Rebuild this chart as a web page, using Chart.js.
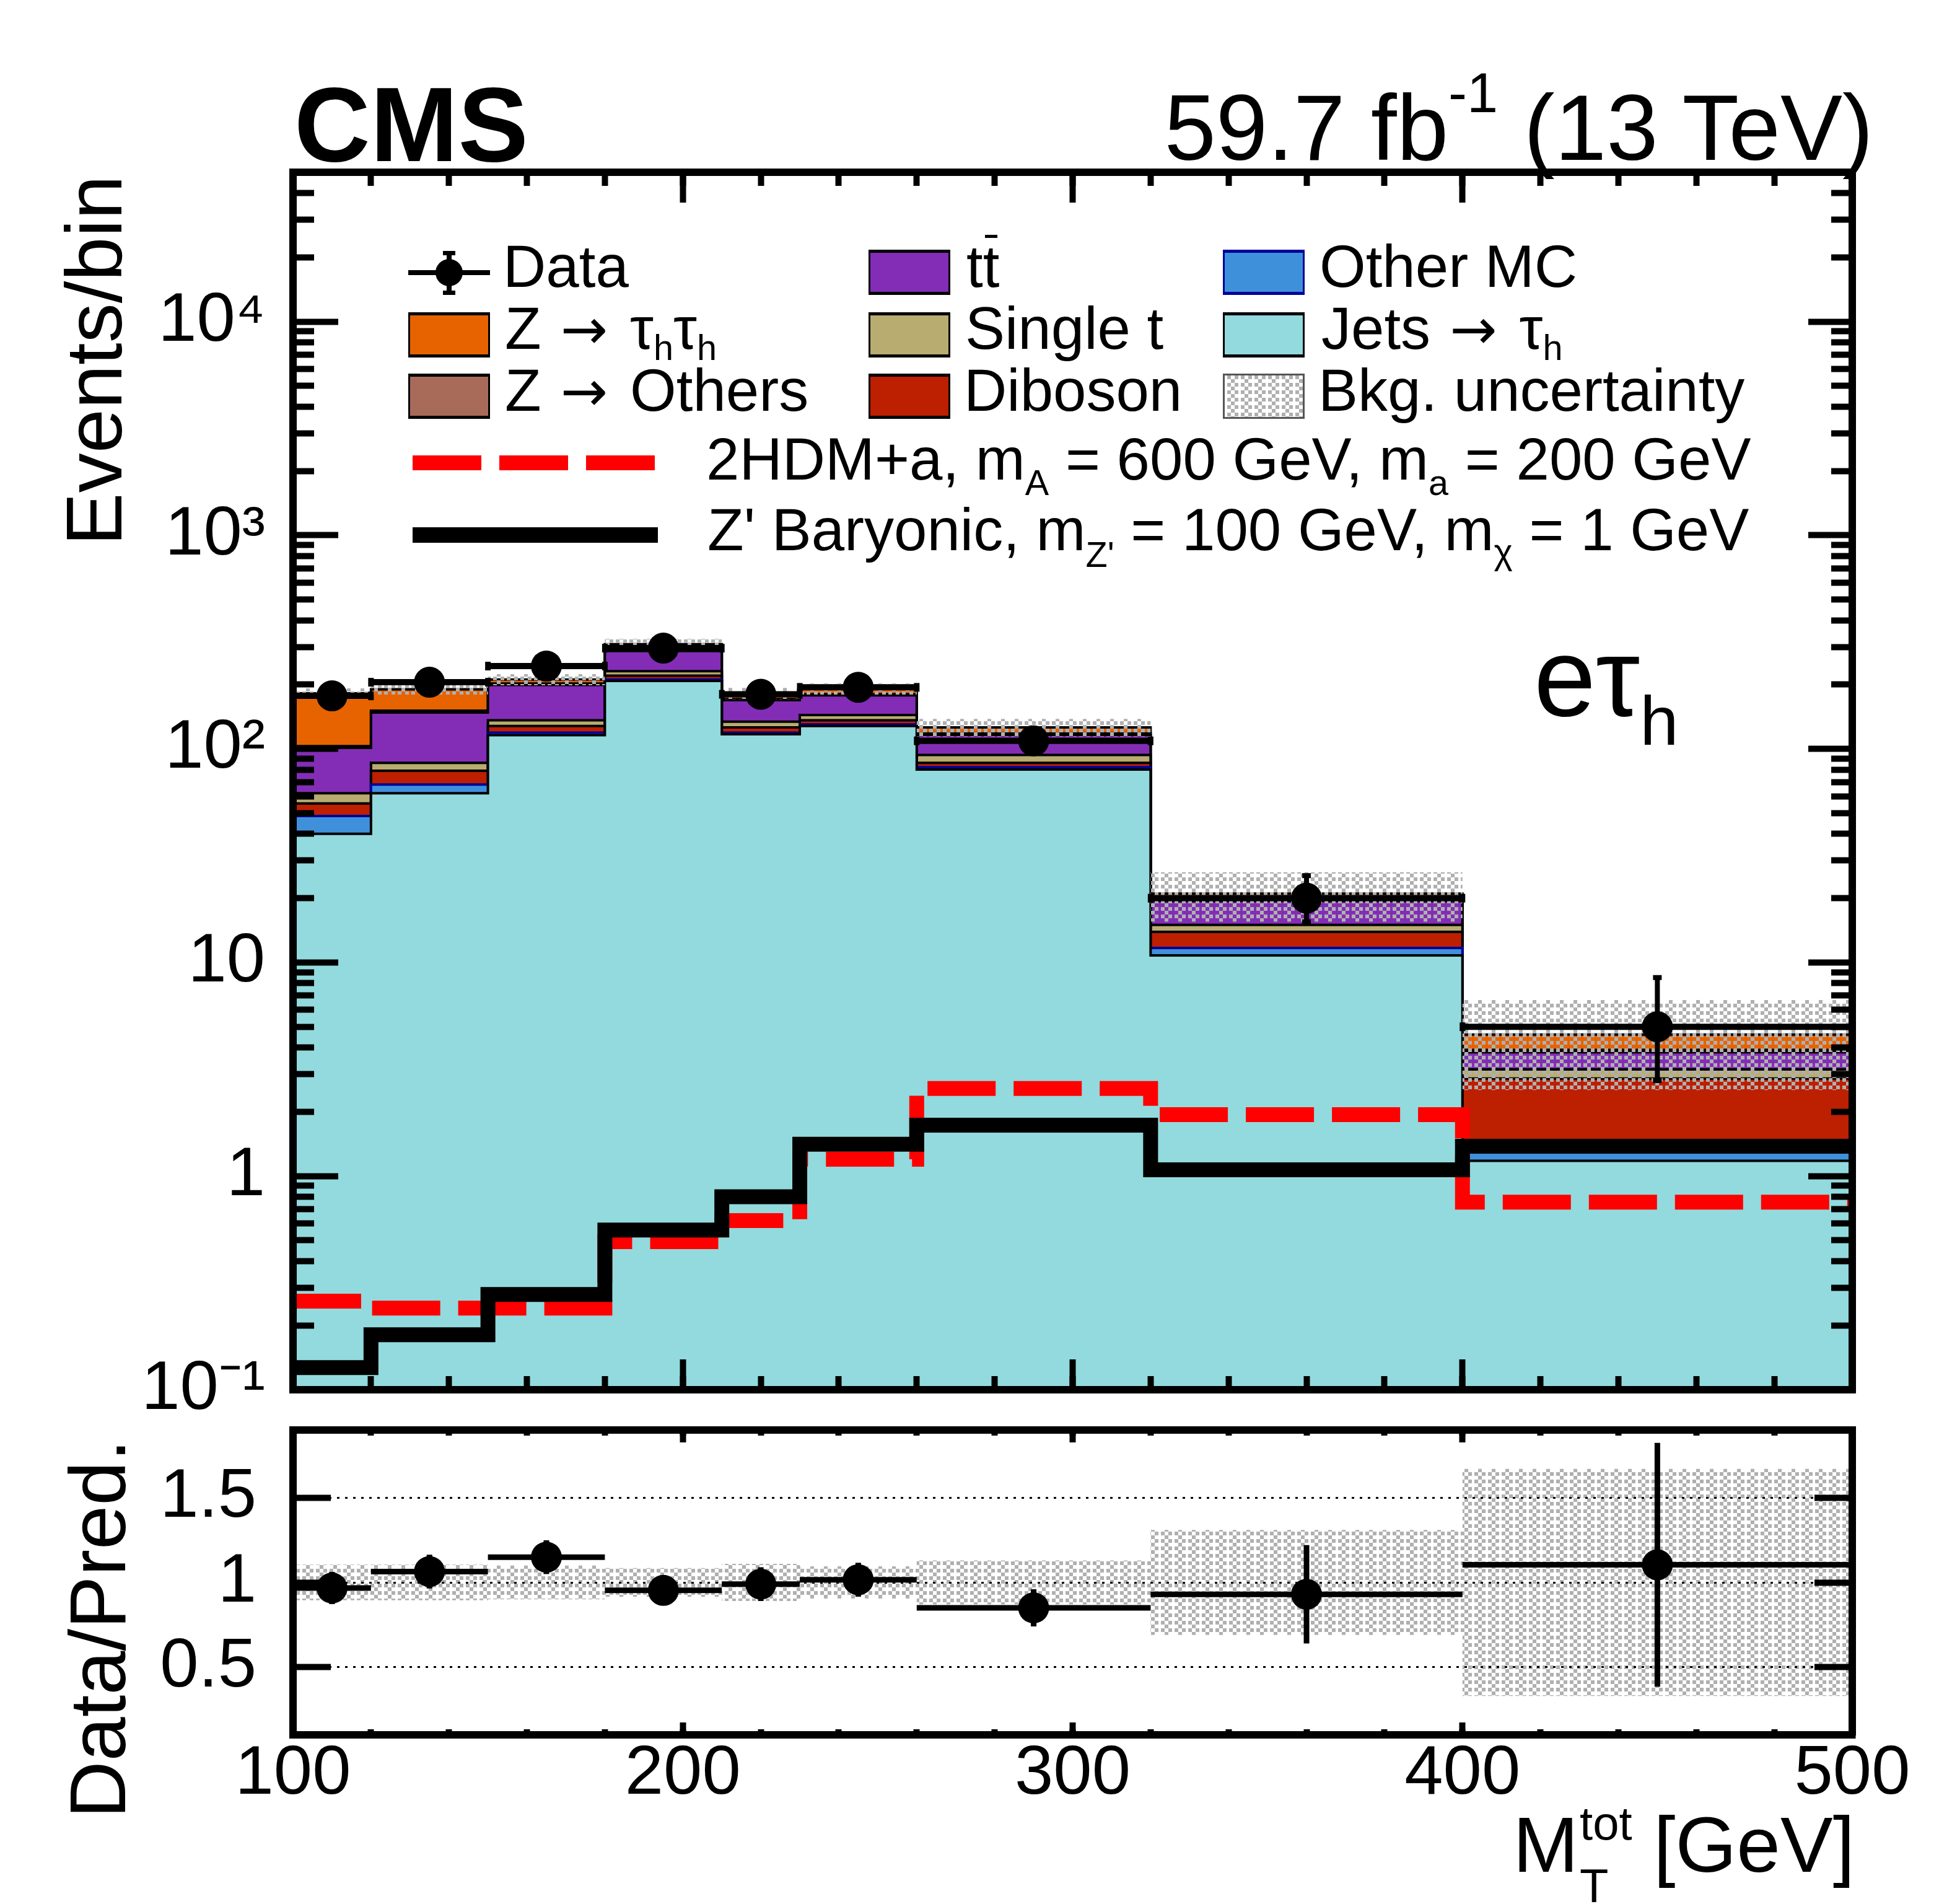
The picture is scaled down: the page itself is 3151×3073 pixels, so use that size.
<!DOCTYPE html>
<html>
<head>
<meta charset="utf-8">
<script src="https://cdn.jsdelivr.net/npm/chart.js@4.4.1/dist/chart.umd.min.js"></script>
<style>
html, body { margin: 0; padding: 0; background: #fff; }
body { width: 3151px; height: 3073px; position: relative; overflow: hidden;
       font-family: "Liberation Sans", Arial, Helvetica, sans-serif; color: #000; }
canvas { position: absolute; left: 0; top: 0; }
.t { position: absolute; white-space: nowrap; line-height: 1; }
.rot { transform-origin: 0 0; transform: rotate(-90deg); text-align: right; }
.up { position: relative; line-height: 1; }
.lg { font-size: 96px; }
.lg sub { font-size: 0.6em; position: relative; vertical-align: baseline; line-height: 1; }
.arr { font-family: "DejaVu Sans", sans-serif; font-size: 0.95em; margin: 0 0.1em 0 0.05em; }
.box { position: absolute; width: 132px; height: 73px; box-sizing: border-box;
       border: 3px solid #000; border-top-width: 5px; border-bottom-width: 5px; }
.bar { position: relative; }
.bar::after { content: ''; position: absolute; left: 0.03em; right: 0.03em; top: 0.03em; border-top: 0.06em solid #000; }
.ss { display: inline-block; position: relative; width: 86px; height: 0; }
.ss span { position: absolute; left: 2px; font-size: 76px; line-height: 1; }
.mk { position: absolute; background: #000; }
</style>
</head>
<body>
<canvas id="main" width="3151" height="3073"></canvas>
<canvas id="ratio" width="3151" height="3073"></canvas>

<div class="t" style="left:475px;top:116px;font-size:170px;font-weight:bold">CMS</div>
<div class="t" style="right:127px;top:131px;font-size:150px">59.7 fb<span class="up" style="font-size:90px;top:-77px">-1</span> (13 TeV)</div>

<div class="t rot" style="left:88px;top:1283px;width:1000px;font-size:128px">Events/bin</div>
<div class="t rot" style="left:94px;top:3023px;width:700px;font-size:128px">Data/Pred.</div>
<div class="t" style="right:157px;top:2914px;font-size:127px">M<span class="ss"><span style="top:-116px">tot</span><span style="top:-15px">T</span></span> [GeV]</div>

<div class="t" style="left:2476px;top:1003px;font-size:180px">e&tau;<span class="up" style="font-size:112px;top:47px">h</span></div>

<!-- legend -->
<div class="mk" style="left:659px;top:436px;width:132px;height:8px"></div>
<div class="mk" style="left:721px;top:407px;width:8px;height:67px"></div>
<div class="mk" style="left:715px;top:405px;width:20px;height:7px"></div>
<div class="mk" style="left:715px;top:469px;width:20px;height:7px"></div>
<div class="mk" style="left:703px;top:418px;width:44px;height:44px;border-radius:50%"></div>
<div class="box" style="left:659px;top:504px;background:#e76300"></div>
<div class="box" style="left:659px;top:603px;background:#a96b59"></div>
<div class="box" style="left:1402px;top:403px;background:#832db6"></div>
<div class="box" style="left:1402px;top:504px;background:#b9ac70"></div>
<div class="box" style="left:1402px;top:603px;background:#bd1f01"></div>
<div class="box" style="left:1974px;top:403px;background:#3f90da;border-color:#000099"></div>
<div class="box" style="left:1974px;top:504px;background:#92dadd"></div>
<div class="box" id="uncBox" style="left:1974px;top:603px;border-color:#555;border-width:3px"></div>
<div class="mk" style="left:666px;top:735px;width:392px;height:24px;background:repeating-linear-gradient(to right,#ff0000 0 111px,transparent 111px 140px)"></div>
<div class="mk" style="left:666px;top:851px;width:396px;height:25px"></div>

<div class="t lg" style="left:812px;top:382px">Data</div>
<div class="t lg" style="left:815px;top:482px">Z <span class="arr">&rarr;</span> &tau;<sub style="top:0.31em">h</sub>&tau;<sub style="top:0.31em">h</sub></div>
<div class="t lg" style="left:815px;top:582px">Z <span class="arr">&rarr;</span> Others</div>
<div class="t lg" style="left:1560px;top:382px">t<span class="bar">t</span></div>
<div class="t lg" style="left:1558px;top:482px">Single t</div>
<div class="t lg" style="left:1556px;top:582px">Diboson</div>
<div class="t lg" style="left:2130px;top:382px">Other MC</div>
<div class="t lg" style="left:2133px;top:482px">Jets <span class="arr">&rarr;</span> &tau;<sub style="top:0.31em">h</sub></div>
<div class="t lg" style="left:2128px;top:582px">Bkg. uncertainty</div>
<div class="t lg" style="left:1140px;top:693px">2HDM+a, m<sub style="top:0.44em">A</sub> = 600 GeV, m<sub style="top:0.44em">a</sub> = 200 GeV</div>
<div class="t lg" style="left:1142px;top:807px">Z' Baryonic, m<sub style="top:0.47em">Z'</sub> = 100 GeV, m<sub style="top:0.38em">&chi;</sub> = 1 GeV</div>

<script>
// bin edges in M_T^tot [GeV]
const edges = [100, 120, 150, 180, 210, 230, 260, 320, 400, 500];

// background components, events per bin
const jetsToTau = [40, 62, 116, 208, 117, 128, 80, 10.8, 1.18];
const otherMC   = [8.5, 6, 3, 3, 2, 2, 2, 0.9, 0.11];
const diboson   = [7, 11, 9, 9, 7, 6, 4, 2.2, 1.57];
const singleTop = [6.5, 7, 8, 11, 8, 8, 7.6, 1.1, 0.3];
const ttbar     = [39, 62, 63, 56, 35, 34, 22.5, 4.4, 0.64];
const zOthers   = [2, 3, 3, 3, 2, 2, 2, 0.4, 0.1];
const zTauTau   = [79, 39, 9, 19, 11, 11, 8, 1.2, 0.7];
const bkgUnc    = [0.055, 0.055, 0.06, 0.06, 0.06, 0.06, 0.095, 0.26, 0.45];

const dataCounts  = [177, 205, 244, 296, 180, 194, 109, 20, 5.0];
const dataErrLow  = [13, 14, 16, 17, 13, 14, 10.5, 4.5, 2.2];
const dataErrHigh = [13, 14, 16, 17, 13, 14, 10.5, 5.5, 3.5];

const sig2HDMa      = [0.26, 0.241, 0.241, 0.493, 0.619, 1.2, 2.57, 1.94, 0.755];
const sigZpBaryonic = [0.127, 0.181, 0.279, 0.559, 0.80, 1.41, 1.73, 1.07, 1.38];

// lower panel
const ratioValues = [0.967, 1.064, 1.149, 0.953, 0.99, 1.016, 0.85, 0.93, 1.104];
const ratioErr    = [0.095, 0.1, 0.1, 0.085, 0.1, 0.1, 0.11, 0.29, 0.72];
const ratioBand   = [0.105, 0.105, 0.1, 0.085, 0.11, 0.095, 0.13, 0.31, 0.67];

// axis ticks
const xMajorTicks = [100, 200, 300, 400, 500];
const xTickLabels = ['100', '200', '300', '400', '500'];
const yMajorTicks = [0.1, 1, 10, 100, 1000, 10000];
const yTickLabels = ['10\u207B\u00B9', '1', '10', '10\u00B2', '10\u00B3', '10\u2074'];
const ratioTicks = [0.5, 1, 1.5];
const ratioTickLabels = ['0.5', '1', '1.5'];

const FONT = '"Liberation Sans", Arial, Helvetica, sans-serif';
const layerFill = ['#92dadd', '#3f90da', '#bd1f01', '#b9ac70', '#832db6', '#a96b59', '#e76300'];
const layerLine = ['#000', '#000099', '#000', '#000', '#000', '#000', '#000'];

const xMinorTicks = [];
for (let v = 100; v <= 500; v += 20) xMinorTicks.push(v);
const yMinorTicks = [];
for (let e = -1; e <= 4; e++) {
  for (let m = 2; m <= 9; m++) {
    const v = Number((m * Math.pow(10, e)).toPrecision(3));
    if (v < 50000) yMinorTicks.push(v);
  }
}

const centers = edges.slice(0, -1).map((e, i) => (e + edges[i + 1]) / 2);

function stepPoints(values) {
  const pts = values.map((v, i) => ({x: edges[i], y: v}));
  pts.push({x: edges[edges.length - 1], y: values[values.length - 1]});
  return pts;
}
function hBarPoints(values) {
  const pts = [];
  values.forEach((v, i) => {
    pts.push({x: edges[i], y: v}, {x: edges[i + 1], y: v}, {x: edges[i + 1], y: null});
  });
  return pts;
}
function vBarPoints(values, lo, hi) {
  const pts = [];
  values.forEach((v, i) => {
    pts.push({x: centers[i], y: v - lo[i]}, {x: centers[i], y: v + hi[i]}, {x: centers[i], y: null});
  });
  return pts;
}

// grey dotted hatch like ROOT's fill style
const tile = document.createElement('canvas');
tile.width = 22; tile.height = 12;
const tg = tile.getContext('2d');
tg.fillStyle = '#b0b0b0';
tg.fillRect(4, 0, 6, 6); tg.fillRect(16, 0, 6, 6); tg.fillRect(10, 6, 6, 6);
const hatch = tg.createPattern(tile, 'repeat');
document.getElementById('uncBox').style.backgroundImage = 'url(' + tile.toDataURL() + ')';

// tick-only axes, ticks pointing inside the frame
function ticksOnly(position, type, min, max, values, len, weight) {
  const vertical = position === 'left' || position === 'right';
  return {
    type: type, position: position, min: min, max: max, weight: weight || 0,
    afterBuildTicks: s => { s.ticks = values.map(v => ({value: v})); },
    ticks: {display: false, autoSkip: false},
    grid: {display: true, drawOnChartArea: false, drawTicks: true, tickLength: -len,
           tickWidth: 10, tickColor: '#000', z: 1},
    border: {display: false},
    afterFit: s => { if (vertical) s.width = 0; else s.height = 0; }
  };
}
function framed(cfg) {
  cfg.border = {display: true, width: 12, color: '#000', z: 1};
  return cfg;
}

// stacked backgrounds
let running = centers.map(() => 0);
const layers = [jetsToTau, otherMC, diboson, singleTop, ttbar, zOthers, zTauTau];
const tops = layers.map(vals => {
  running = running.map((s, i) => s + vals[i]);
  return running.slice();
});
const total = tops[tops.length - 1];

const mainSets = tops.map((top, k) => ({
  data: stepPoints(top), stepped: true, fill: k === 0 ? 'start' : '-1',
  backgroundColor: layerFill[k], borderColor: layerLine[k], borderWidth: 4,
  pointRadius: 0, order: 20 + k, xAxisID: 'x', yAxisID: 'y'
}));
mainSets.push({
  data: stepPoints(total.map((t, i) => t * (1 - bkgUnc[i]))), stepped: true, fill: false,
  borderWidth: 0, borderColor: 'rgba(0,0,0,0)', pointRadius: 0, order: 10, xAxisID: 'x', yAxisID: 'y'
});
mainSets.push({
  data: stepPoints(total.map((t, i) => t * (1 + bkgUnc[i]))), stepped: true, fill: '-1',
  backgroundColor: hatch, borderWidth: 0, borderColor: 'rgba(0,0,0,0)', pointRadius: 0,
  order: 9, xAxisID: 'x', yAxisID: 'y'
});
mainSets.push({
  data: stepPoints(sig2HDMa), stepped: true, fill: false, borderColor: '#ff0000',
  borderWidth: 24, borderDash: [110, 29], borderCapStyle: 'butt', pointRadius: 0,
  order: 6, xAxisID: 'x', yAxisID: 'y'
});
mainSets.push({
  data: stepPoints(sigZpBaryonic), stepped: true, fill: false, borderColor: '#000',
  borderWidth: 24, pointRadius: 0, order: 5, xAxisID: 'x', yAxisID: 'y'
});
mainSets.push({
  data: hBarPoints(dataCounts), fill: false, borderColor: '#000', borderWidth: 10,
  pointStyle: 'line', pointRotation: 90, pointRadius: 7, pointBorderWidth: 9,
  pointBorderColor: '#000', order: 3, xAxisID: 'x', yAxisID: 'y'
});
mainSets.push({
  data: vBarPoints(dataCounts, dataErrLow, dataErrHigh), fill: false, borderColor: '#000',
  borderWidth: 8, pointStyle: 'line', pointRotation: 0, pointRadius: 7, pointBorderWidth: 8,
  pointBorderColor: '#000', order: 2, xAxisID: 'x', yAxisID: 'y'
});
mainSets.push({
  data: centers.map((c, i) => ({x: c, y: dataCounts[i]})), showLine: false, fill: false,
  pointRadius: 25, pointBackgroundColor: '#000', pointBorderColor: '#000', pointBorderWidth: 0,
  order: 1, xAxisID: 'x', yAxisID: 'y'
});

const common = {
  responsive: false, animation: false, devicePixelRatio: 1, events: [],
  plugins: {legend: {display: false}, tooltip: {enabled: false}}
};

new Chart(document.getElementById('main'), {
  type: 'line',
  data: {datasets: mainSets},
  options: Object.assign({}, common, {
    layout: {padding: {left: 0, right: 161, top: 278, bottom: 830}},
    scales: {
      x: framed(ticksOnly('bottom', 'linear', 100, 500, xMajorTicks, 49, 1)),
      y: {
        type: 'logarithmic', position: 'left', min: 0.1, max: 50000, weight: 1,
        afterBuildTicks: s => { s.ticks = yMajorTicks.map(v => ({value: v})); },
        ticks: {display: true, autoSkip: false, padding: 118, color: '#000',
                font: {family: FONT, size: 112},
                callback: v => yTickLabels[yMajorTicks.indexOf(v)]},
        grid: {drawOnChartArea: false, tickLength: -73, tickWidth: 10, tickColor: '#000', z: 1},
        border: {display: true, width: 12, color: '#000', z: 1},
        afterFit: s => { s.width = 473; }
      },
      xMinor: ticksOnly('bottom', 'linear', 100, 500, xMinorTicks, 22, 0),
      xTop: framed(ticksOnly('top', 'linear', 100, 500, xMajorTicks, 49, 1)),
      xTopMinor: ticksOnly('top', 'linear', 100, 500, xMinorTicks, 22, 0),
      yMinor: ticksOnly('left', 'logarithmic', 0.1, 50000, yMinorTicks, 34, 0),
      yRight: framed(ticksOnly('right', 'logarithmic', 0.1, 50000, yMajorTicks, 71, 1)),
      yRightMinor: ticksOnly('right', 'logarithmic', 0.1, 50000, yMinorTicks, 34, 0)
    }
  })
});

const ratioSets = [
  {data: stepPoints(ratioBand.map(u => 1 - u)), stepped: true, fill: false, borderWidth: 0,
   borderColor: 'rgba(0,0,0,0)', pointRadius: 0, order: 10, xAxisID: 'x', yAxisID: 'y'},
  {data: stepPoints(ratioBand.map(u => 1 + u)), stepped: true, fill: '-1', backgroundColor: hatch,
   borderWidth: 0, borderColor: 'rgba(0,0,0,0)', pointRadius: 0, order: 9, xAxisID: 'x', yAxisID: 'y'},
  {data: hBarPoints(ratioValues), fill: false, borderColor: '#000', borderWidth: 9,
   pointRadius: 0, order: 3, xAxisID: 'x', yAxisID: 'y'},
  {data: vBarPoints(ratioValues, ratioErr, ratioErr), fill: false, borderColor: '#000',
   borderWidth: 9, pointRadius: 0, order: 2, xAxisID: 'x', yAxisID: 'y'},
  {data: centers.map((c, i) => ({x: c, y: ratioValues[i]})), showLine: false, fill: false,
   pointRadius: 25, pointBackgroundColor: '#000', pointBorderWidth: 0, order: 1,
   xAxisID: 'x', yAxisID: 'y'}
];

new Chart(document.getElementById('ratio'), {
  type: 'line',
  data: {datasets: ratioSets},
  options: Object.assign({}, common, {
    layout: {padding: {left: 0, right: 161, top: 2308, bottom: 0}},
    scales: {
      x: {
        type: 'linear', position: 'bottom', min: 100, max: 500, weight: 1,
        afterBuildTicks: s => { s.ticks = xMajorTicks.map(v => ({value: v})); },
        ticks: {display: true, autoSkip: false, maxRotation: 0, minRotation: 0, padding: 17,
                color: '#000', font: {family: FONT, size: 112},
                callback: v => xTickLabels[xMajorTicks.indexOf(v)]},
        grid: {drawOnChartArea: false, tickLength: -20, tickWidth: 10, tickColor: '#000', z: 1},
        border: {display: true, width: 12, color: '#000', z: 1},
        afterFit: s => { s.height = 273; }
      },
      y: {
        type: 'linear', position: 'left', min: 0.1, max: 1.9, weight: 1,
        afterBuildTicks: s => { s.ticks = ratioTicks.map(v => ({value: v})); },
        ticks: {display: true, autoSkip: false, padding: 120, color: '#000',
                font: {family: FONT, size: 112},
                callback: v => ratioTickLabels[ratioTicks.indexOf(v)]},
        grid: {drawOnChartArea: true, color: '#000', lineWidth: 3, tickLength: -61,
               tickWidth: 10, tickColor: '#000', z: 1},
        border: {display: true, width: 12, color: '#000', dash: [4, 9], z: 1},
        afterFit: s => { s.width = 473; }
      },
      xMinor: ticksOnly('bottom', 'linear', 100, 500, xMinorTicks, 9, 0),
      xTop: framed(ticksOnly('top', 'linear', 100, 500, xMajorTicks, 20, 1)),
      xTopMinor: ticksOnly('top', 'linear', 100, 500, xMinorTicks, 9, 0),
      yRight: framed(ticksOnly('right', 'linear', 0.1, 1.9, ratioTicks, 61, 1))
    }
  })
});
</script>
</body>
</html>
